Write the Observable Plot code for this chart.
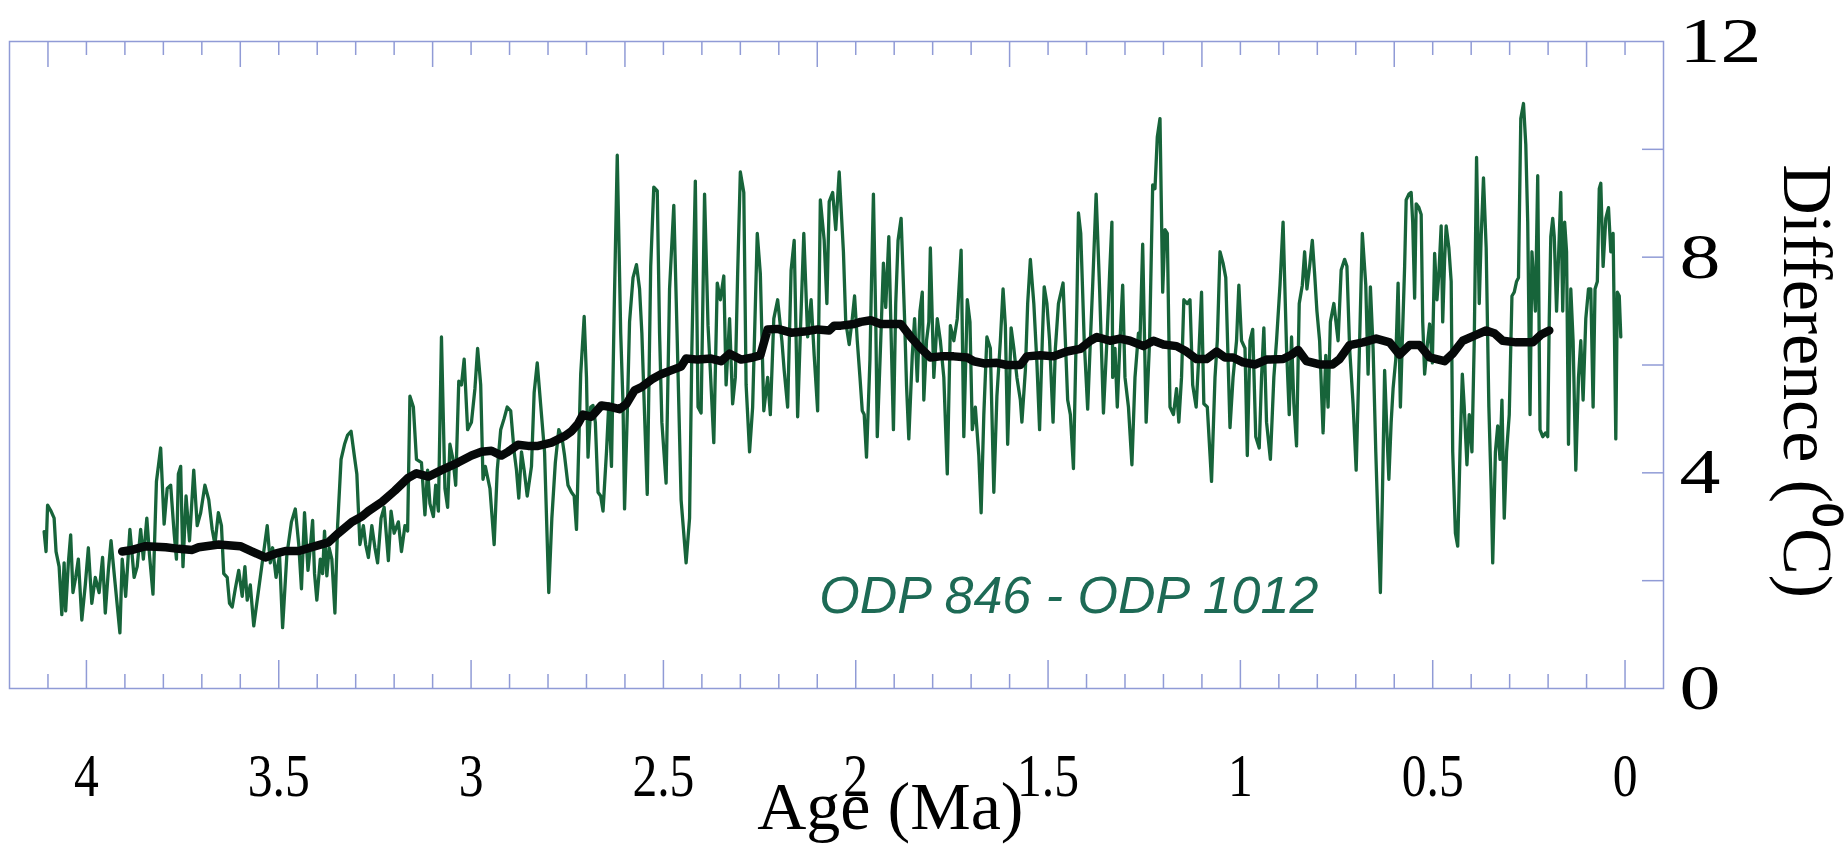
<!DOCTYPE html>
<html><head><meta charset="utf-8">
<script src="https://cdn.jsdelivr.net/npm/d3@7"></script>
<script src="https://cdn.jsdelivr.net/npm/@observablehq/plot@0.6"></script>
<style>html,body{margin:0;padding:0;background:#fff;} #chart svg{display:block;}</style>
</head><body><div id="chart"></div>
<script>
// ODP 846 - ODP 1012 SST difference, [age Ma, difference °C]
const greenSeg1 = [[4.110,2.91],[4.105,2.54],[4.101,3.40],[4.092,3.29],[4.084,3.16],[4.079,2.54],[4.071,2.26],[4.064,1.37],[4.058,2.33],[4.054,1.44],[4.047,2.33],[4.041,2.85],[4.035,1.78],[4.028,2.06],[4.021,2.40],[4.012,1.27],[4.003,1.92],[3.995,2.61],[3.986,1.58],[3.977,2.06],[3.967,1.78],[3.958,2.43],[3.951,1.40],[3.943,2.19],[3.936,2.74],[3.926,1.99],[3.913,1.03],[3.907,2.40],[3.898,1.71],[3.887,2.95],[3.876,2.06],[3.868,2.26],[3.859,2.95],[3.852,2.40],[3.843,3.16],[3.836,2.47],[3.827,1.75],[3.818,3.84],[3.807,4.46],[3.798,3.05],[3.790,3.71],[3.781,3.77],[3.772,2.88],[3.766,2.40],[3.761,3.98],[3.755,4.12],[3.749,2.26],[3.741,3.57],[3.732,2.74],[3.721,4.05],[3.712,3.02],[3.703,3.26],[3.692,3.77],[3.682,3.50],[3.673,2.95],[3.666,2.67],[3.657,3.26],[3.649,3.02],[3.643,2.13],[3.634,2.06],[3.628,1.58],[3.621,1.51],[3.613,1.85],[3.604,2.19],[3.595,1.71],[3.588,2.26],[3.582,1.64],[3.574,1.92],[3.565,1.16],[3.556,1.64],[3.543,2.33],[3.530,3.02],[3.522,2.33],[3.516,2.61],[3.507,2.06],[3.498,2.47],[3.490,1.13],[3.479,2.47],[3.467,3.09],[3.457,3.33],[3.448,2.67],[3.441,1.85]];
const greenSeg2 = [[3.433,3.26],[3.424,2.19],[3.418,2.61],[3.412,3.12],[3.407,2.13],[3.401,1.64],[3.392,2.40],[3.386,2.13],[3.381,2.92],[3.375,2.09],[3.369,2.61],[3.362,2.40],[3.354,1.40],[3.347,3.02],[3.338,4.25],[3.329,4.53],[3.321,4.70],[3.312,4.77],[3.303,4.29],[3.297,3.98],[3.289,2.67],[3.280,3.02],[3.274,2.67],[3.267,2.43],[3.258,3.02],[3.250,2.61],[3.243,2.33],[3.234,3.16],[3.226,3.36],[3.215,2.37],[3.208,3.29],[3.200,2.88],[3.189,3.09],[3.181,2.54],[3.172,3.02],[3.165,2.92],[3.159,5.42],[3.150,5.22],[3.142,4.25],[3.129,4.19],[3.120,3.22],[3.113,4.05],[3.107,3.43],[3.098,3.19],[3.092,3.77],[3.085,3.29],[3.077,6.52],[3.068,3.71],[3.061,3.36],[3.055,4.53],[3.047,4.25],[3.040,3.77],[3.032,5.70],[3.025,5.63],[3.018,6.11],[3.009,4.80],[2.999,4.94],[2.990,5.56],[2.983,6.31],[2.975,5.63],[2.969,3.88],[2.963,4.12],[2.951,3.71],[2.940,2.67],[2.932,4.05],[2.923,4.80],[2.914,5.01],[2.906,5.22],[2.897,5.15],[2.888,4.39],[2.882,4.05],[2.876,3.53],[2.869,4.39],[2.862,4.05],[2.854,3.57],[2.843,4.12],[2.836,5.49],[2.828,6.04],[2.817,5.08],[2.809,4.39],[2.798,1.78],[2.790,3.16],[2.781,4.19],[2.772,4.80],[2.764,4.67],[2.757,4.32],[2.748,3.77]];
const greenSeg3 = [[2.739,3.64],[2.732,3.57],[2.726,2.95],[2.715,5.83],[2.706,6.90],[2.700,5.77],[2.696,4.29],[2.689,5.22],[2.683,5.25],[2.677,4.94],[2.670,3.64],[2.663,3.57],[2.657,3.29],[2.648,4.39],[2.642,5.28],[2.635,4.12],[2.628,7.00],[2.620,9.89],[2.611,6.59],[2.605,5.28],[2.601,3.33],[2.594,5.08],[2.588,6.80],[2.579,7.62],[2.570,7.86],[2.562,7.41],[2.556,6.59],[2.549,5.08],[2.542,3.60],[2.533,7.83],[2.525,9.30],[2.516,9.23],[2.510,6.59],[2.504,4.94],[2.493,3.81],[2.484,7.41],[2.473,8.96],[2.464,6.45],[2.454,3.50],[2.441,2.33],[2.432,3.16],[2.426,6.31],[2.417,9.41],[2.410,5.22],[2.402,5.11],[2.393,9.17],[2.384,6.73],[2.378,5.90],[2.369,4.56],[2.360,7.52],[2.352,7.21],[2.343,7.65],[2.337,5.63],[2.328,6.86],[2.320,5.28],[2.313,5.77],[2.307,7.69],[2.300,9.58],[2.291,9.20],[2.285,5.63],[2.276,4.39],[2.268,5.22],[2.256,8.44],[2.248,7.69],[2.239,5.15],[2.229,5.77],[2.222,5.08],[2.213,6.86],[2.203,7.21],[2.192,6.45],[2.186,5.90],[2.177,5.22],[2.168,7.76],[2.160,8.31],[2.151,5.04],[2.144,6.59],[2.135,8.44],[2.125,6.52],[2.116,7.21],[2.108,6.18],[2.099,5.15],[2.092,9.06],[2.082,8.31],[2.075,7.14],[2.069,9.03],[2.060,9.20],[2.052,8.51],[2.043,9.58]];
const greenSeg4 = [[2.032,8.10],[2.026,6.80],[2.017,6.38],[2.009,6.86],[2.003,7.28],[1.996,6.45],[1.989,5.77],[1.983,5.15],[1.978,5.08],[1.972,4.29],[1.963,6.11],[1.959,7.55],[1.954,9.17],[1.948,6.86],[1.944,4.67],[1.935,6.45],[1.928,7.89],[1.922,7.07],[1.914,8.38],[1.909,6.86],[1.902,4.80],[1.896,7.14],[1.890,8.31],[1.882,8.72],[1.873,6.86],[1.868,5.63],[1.862,4.63],[1.853,6.18],[1.847,6.86],[1.840,5.70],[1.833,7.00],[1.827,7.35],[1.823,5.35],[1.816,6.45],[1.810,6.80],[1.806,8.17],[1.797,5.77],[1.788,6.86],[1.780,6.45],[1.771,5.77],[1.762,3.98],[1.754,6.73],[1.745,6.45],[1.736,6.86],[1.726,8.13],[1.719,4.67],[1.710,7.21],[1.703,6.80],[1.697,4.80],[1.689,5.22],[1.680,4.32],[1.674,3.26],[1.667,5.08],[1.659,6.52],[1.650,6.31],[1.641,3.64],[1.633,5.42],[1.624,6.45],[1.617,7.41],[1.611,6.73],[1.605,4.53],[1.596,6.69],[1.589,6.31],[1.581,5.77],[1.572,5.35],[1.568,4.94],[1.559,5.90],[1.553,7.14],[1.546,7.96],[1.537,7.14],[1.529,6.04],[1.522,4.80],[1.515,6.45],[1.510,7.45],[1.503,7.14],[1.496,6.45],[1.487,4.94],[1.481,6.31],[1.473,7.14],[1.461,7.52],[1.455,6.45],[1.449,5.35],[1.442,5.08],[1.434,4.08],[1.425,7.14],[1.421,8.82],[1.415,8.44],[1.406,6.45],[1.397,5.18],[1.390,6.45],[1.384,7.48],[1.375,9.17],[1.366,7.41],[1.356,5.11],[1.347,6.45],[1.340,7.69],[1.334,8.65]];
const greenSeg5 = [[1.332,5.77],[1.326,6.31],[1.320,5.22],[1.313,6.45],[1.306,7.48],[1.300,5.77],[1.291,5.22],[1.282,4.15],[1.274,5.77],[1.265,6.59],[1.261,6.45],[1.254,8.24],[1.245,4.94],[1.236,6.45],[1.228,9.34],[1.222,9.27],[1.216,10.23],[1.209,10.57],[1.202,7.35],[1.196,8.51],[1.190,8.44],[1.183,5.22],[1.174,5.08],[1.166,5.56],[1.160,4.94],[1.153,5.77],[1.147,7.21],[1.138,7.14],[1.131,7.21],[1.124,5.63],[1.115,5.22],[1.109,6.04],[1.101,7.35],[1.095,5.28],[1.086,5.22],[1.075,3.84],[1.066,5.77],[1.060,6.45],[1.053,8.10],[1.045,7.89],[1.038,7.62],[1.027,4.84],[1.019,5.77],[1.010,6.45],[1.004,7.48],[0.997,6.45],[0.988,6.31],[0.982,4.32],[0.975,6.45],[0.968,6.66],[0.960,4.67],[0.951,4.46],[0.945,5.77],[0.939,6.69],[0.932,4.94],[0.922,4.25],[0.913,5.77],[0.906,6.45],[0.897,7.48],[0.889,8.65],[0.880,6.31],[0.873,5.08],[0.867,6.52],[0.861,5.28],[0.854,4.50],[0.847,7.14],[0.839,7.48],[0.833,8.10],[0.827,7.41],[0.820,7.83],[0.813,8.31],[0.807,7.69],[0.801,7.00],[0.794,6.45],[0.785,4.74],[0.778,6.18],[0.772,5.22],[0.766,6.80],[0.757,7.14],[0.746,6.45],[0.738,7.76],[0.729,7.96],[0.723,7.83],[0.716,6.31],[0.707,5.28],[0.699,4.05],[0.690,6.45],[0.683,8.44],[0.674,7.48],[0.668,5.83],[0.662,7.45],[0.655,6.31],[0.648,4.39],[0.642,3.02],[0.636,1.78]];
const greenSeg6 = [[0.631,3.50],[0.625,5.90],[0.619,4.74],[0.614,3.88],[0.608,4.94],[0.603,5.56],[0.596,6.11],[0.590,7.52],[0.584,5.22],[0.579,6.45],[0.573,7.83],[0.569,9.06],[0.562,9.17],[0.556,9.20],[0.552,8.65],[0.547,7.24],[0.543,8.99],[0.536,8.92],[0.530,8.79],[0.526,6.80],[0.521,5.83],[0.515,6.31],[0.508,6.76],[0.501,6.04],[0.495,8.07],[0.489,7.21],[0.484,7.69],[0.478,8.58],[0.474,6.80],[0.469,7.96],[0.465,8.58],[0.458,8.17],[0.452,7.55],[0.448,4.39],[0.441,2.88],[0.435,2.64],[0.429,4.39],[0.423,5.83],[0.418,5.22],[0.411,4.15],[0.405,5.08],[0.398,4.39],[0.392,6.45],[0.386,9.85],[0.379,7.14],[0.374,8.38],[0.368,9.47],[0.361,8.17],[0.354,5.22],[0.348,3.71],[0.344,2.33],[0.337,4.39],[0.331,4.87],[0.325,4.25],[0.320,5.35],[0.314,3.16],[0.308,4.39],[0.301,5.08],[0.294,7.28],[0.288,7.35],[0.282,7.55],[0.277,7.62],[0.271,10.57],[0.264,10.85],[0.258,10.09],[0.253,8.65],[0.247,5.08],[0.242,8.10],[0.233,7.00],[0.227,9.51],[0.221,4.80],[0.214,4.67],[0.207,4.74],[0.201,4.67],[0.197,6.86],[0.193,8.38],[0.188,8.72],[0.184,8.38],[0.178,7.00],[0.171,8.38],[0.167,9.20],[0.162,7.00],[0.157,8.65],[0.152,8.10],[0.147,4.53],[0.141,7.41],[0.135,6.45],[0.128,4.05],[0.121,5.77],[0.115,6.45],[0.109,5.35],[0.102,6.86],[0.095,7.41],[0.089,7.41],[0.083,5.22],[0.078,7.41],[0.072,7.55],[0.067,9.27],[0.063,9.37],[0.057,7.83],[0.050,8.72],[0.043,8.92],[0.037,8.10],[0.031,8.44],[0.024,4.63],[0.020,7.35],[0.015,7.28],[0.011,6.52]];
// smoothed trend (black), [age Ma, difference °C]
const trendLine = [[3.907,2.54],[3.881,2.57],[3.846,2.64],[3.794,2.62],[3.760,2.59],[3.725,2.57],[3.708,2.62],[3.656,2.67],[3.600,2.64],[3.569,2.54],[3.535,2.43],[3.509,2.50],[3.483,2.55],[3.448,2.55],[3.405,2.64],[3.371,2.71],[3.345,2.88],[3.310,3.09],[3.284,3.19],[3.267,3.29],[3.232,3.46],[3.198,3.67],[3.163,3.91],[3.142,3.99],[3.111,3.93],[3.077,4.05],[3.034,4.19],[2.999,4.32],[2.973,4.39],[2.947,4.41],[2.921,4.32],[2.904,4.39],[2.878,4.52],[2.852,4.50],[2.826,4.50],[2.791,4.56],[2.757,4.68],[2.739,4.77],[2.722,4.91],[2.709,5.08],[2.687,5.04],[2.661,5.25],[2.635,5.22],[2.614,5.18],[2.596,5.28],[2.575,5.53],[2.557,5.59],[2.531,5.73],[2.506,5.83],[2.480,5.90],[2.454,5.97],[2.441,6.12],[2.410,6.10],[2.376,6.12],[2.350,6.07],[2.328,6.21],[2.298,6.10],[2.268,6.14],[2.248,6.18],[2.229,6.66],[2.203,6.67],[2.168,6.60],[2.134,6.62],[2.099,6.66],[2.069,6.64],[2.056,6.73],[2.039,6.73],[2.004,6.76],[1.987,6.80],[1.961,6.83],[1.935,6.76],[1.883,6.76],[1.857,6.52],[1.831,6.31],[1.806,6.14],[1.780,6.16],[1.745,6.16],[1.710,6.14],[1.693,6.07],[1.667,6.03],[1.633,6.04],[1.607,6.00],[1.572,6.00],[1.555,6.16],[1.520,6.18],[1.486,6.16],[1.451,6.25],[1.416,6.30],[1.390,6.45],[1.373,6.52],[1.339,6.45],[1.313,6.49],[1.287,6.45],[1.252,6.35],[1.226,6.45],[1.200,6.38],[1.166,6.35],[1.140,6.25],[1.114,6.11],[1.088,6.11],[1.062,6.25],[1.040,6.14],[1.019,6.14],[0.993,6.05],[0.962,6.01],[0.932,6.10],[0.889,6.11],[0.867,6.19],[0.850,6.28],[0.828,6.07],[0.794,6.01],[0.760,6.01],[0.742,6.11],[0.716,6.37],[0.681,6.42],[0.647,6.49],[0.612,6.42],[0.586,6.19],[0.560,6.37],[0.534,6.37],[0.508,6.14],[0.469,6.07],[0.448,6.21],[0.422,6.45],[0.387,6.56],[0.361,6.64],[0.340,6.59],[0.318,6.45],[0.283,6.42],[0.240,6.42],[0.219,6.56],[0.197,6.64]];

const xLabelTicks = [4, 3.5, 3, 2.5, 2, 1.5, 1, 0.5, 0];
const topLongTicks = [4.1, 3.6, 3.1, 2.6, 2.1, 1.6, 1.1, 0.6, 0.1];
const yLabelTicks = [0, 4, 8, 12];
const yInnerTicks = [2, 4, 6, 8, 10];
const xTitle = "Age (Ma)";
const yTitle = "Difference (\u2070C)";
const seriesLabel = "ODP 846 - ODP 1012";

const toRows = arr => arr.map(([age, value]) => ({age, value}));
const green = toRows([...greenSeg1, ...greenSeg2, ...greenSeg3, ...greenSeg4, ...greenSeg5, ...greenSeg6]);
const trend = toRows(trendLine);

const tenths = d3.range(0, 42).map(i => +(i / 10).toFixed(1));
const xMinorTicks = tenths.filter(t => t > 0 && !xLabelTicks.includes(t));
const topShortTicks = tenths.filter(t => !topLongTicks.includes(t));

const axisColor = "#909bd6";
const serif = "'Liberation Serif', 'Times New Roman', serif";

const chart = Plot.plot({
  width: 1848, height: 846,
  marginLeft: 9, marginRight: 185, marginTop: 41, marginBottom: 158,
  x: {domain: [4.2, -0.1], label: null},
  y: {domain: [0, 12], label: null},
  style: {fontFamily: serif, fontSize: "64px", color: "#000", background: "#fff"},
  marks: [
    Plot.line(green, {x: "age", y: "value", stroke: "#17643a", strokeWidth: 3.3, strokeLinejoin: "round"}),
    Plot.line(trend, {x: "age", y: "value", stroke: "#060909", strokeWidth: 8.5, strokeLinejoin: "round", strokeLinecap: "round"}),
    Plot.frame({stroke: axisColor, strokeWidth: 1.5}),
    Plot.axisX(xMinorTicks, {anchor: "bottom", tickSize: -14, tickFormat: () => "", stroke: axisColor, strokeWidth: 1.5, label: null}),
    Plot.axisX(xLabelTicks, {anchor: "bottom", tickSize: -28, tickFormat: () => "", stroke: axisColor, strokeWidth: 1.5, label: null}),
    Plot.axisX(xLabelTicks, {anchor: "bottom", tickSize: 0, tickPadding: 63, tickFormat: d => String(d), fill: "#000", fontSize: 62, label: null, ariaLabel: "x-labels"}),
    Plot.axisX(topShortTicks, {anchor: "top", tickSize: -13, tickFormat: () => "", stroke: axisColor, strokeWidth: 1.5, label: null}),
    Plot.axisX(topLongTicks, {anchor: "top", tickSize: -25, tickFormat: () => "", stroke: axisColor, strokeWidth: 1.5, label: null}),
    Plot.axisY(yInnerTicks, {anchor: "right", tickSize: -22, tickFormat: () => "", stroke: axisColor, strokeWidth: 1.5, label: null}),
    Plot.axisY(yLabelTicks, {anchor: "right", tickSize: 0, tickPadding: 16, tickFormat: d => String(d), fill: "#000", fontSize: 64, label: null, ariaLabel: "y-labels"}),
    Plot.text([xTitle], {x: 1.91, frameAnchor: "bottom", dy: 119, lineAnchor: "middle", textAnchor: "middle", text: d => d, fontSize: 68, fill: "#000"}),
    Plot.text([yTitle], {y: 5.7, frameAnchor: "right", dx: 143, rotate: 90, lineAnchor: "middle", textAnchor: "middle", text: d => d, fontSize: 70, fill: "#000"}),
    Plot.text([seriesLabel], {x: 1.446, y: 1.7, text: d => d, fontFamily: "'Liberation Sans', Arial, sans-serif", fontStyle: "italic", fontSize: 52, fill: "#1d6a55"})
  ]
});
document.getElementById("chart").appendChild(chart);

// the original figure's tick numbers are condensed (x) and widened (y)
const xLab = new Set(xLabelTicks.map(String));
const yLab = new Set(yLabelTicks.map(String));
d3.select(chart).selectAll("text").each(function() {
  const p = this.parentNode;
  const label = p && p.getAttribute && p.getAttribute("aria-label");
  const s = this.textContent;
  let sx = null;
  if (label && label.includes("x-labels") && xLab.has(s)) sx = 0.8;
  if (label && label.includes("y-labels") && yLab.has(s)) sx = 1.28;
  if (sx) {
    const t = this.getAttribute("transform") || "";
    this.setAttribute("transform", t + ` scale(${sx},1)`);
  }
});
</script>
</body></html>
